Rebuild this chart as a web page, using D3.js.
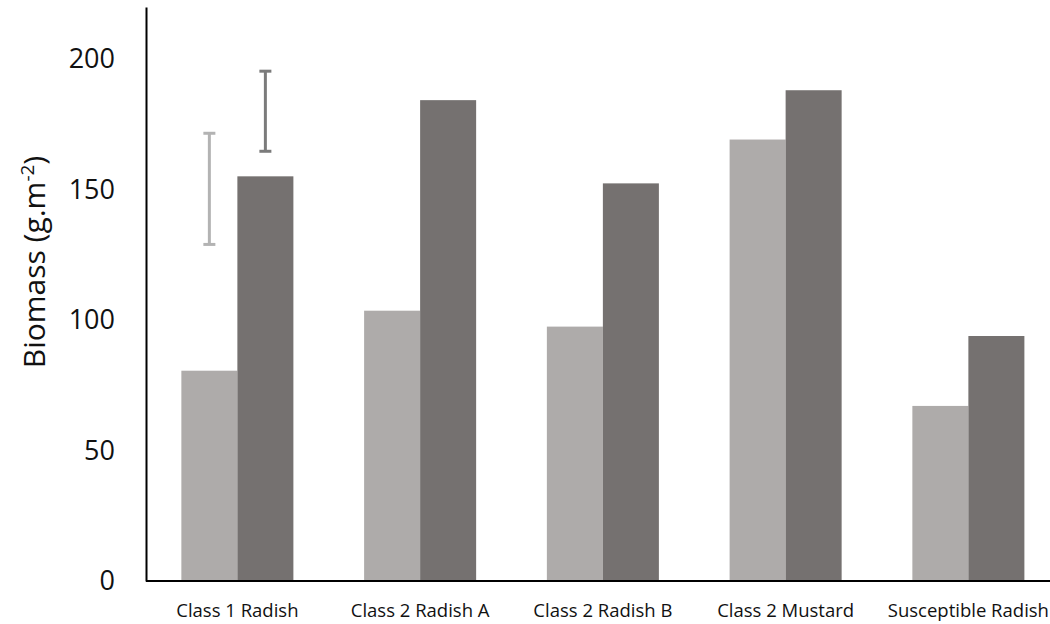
<!DOCTYPE html>
<html>
<head>
<meta charset="utf-8">
<script src="https://cdn.jsdelivr.net/npm/d3@7"></script>
<style>
  html, body { margin: 0; padding: 0; background: #fff; }
  svg { display: block; }
</style>
</head>
<body>
<div id="chart"></div>
<script>
// categories and series values (biomass, g.m-2)
const categories = ["Class 1 Radish", "Class 2 Radish A", "Class 2 Radish B", "Class 2 Mustard", "Susceptible Radish"];
const seriesNames = ["light", "dark"];
const lightValues = [80.6, 103.6, 97.5, 169.2, 67.1];
const darkValues = [155.1, 184.3, 152.4, 188.1, 93.9];
// error bars (only on first group) as [low, high]
const lightErr = [[129, 171.6], null, null, null, null];
const darkErr = [[164.7, 195.4], null, null, null, null];
const yTicks = [0, 50, 100, 150, 200];

const width = 1050, height = 624;
const margin = { top: 7, left: 146, bottom: 43 };
const colors = { light: "#aeabaa", dark: "#757170" };
const errColors = { light: "#b3b3b3", dark: "#7b7b7b" };

const svg = d3.select("#chart").append("svg")
  .attr("width", width)
  .attr("height", height)
  .attr("font-family", "'Open Sans', sans-serif");

const y = d3.scaleLinear().domain([0, 220]).range([height - margin.bottom, margin.top]);
const x = d3.scaleBand().domain(categories).range([margin.left, margin.left + 5 * 182.75]).paddingInner(0.387).paddingOuter(0.1935);
const xs = d3.scaleBand().domain(seriesNames).range([0, x.bandwidth()]);

const data = categories.map((c, i) => ({
  cat: c,
  vals: [
    { key: "light", v: lightValues[i], err: lightErr[i] },
    { key: "dark", v: darkValues[i], err: darkErr[i] }
  ]
}));

// bars
const g = svg.append("g")
  .selectAll("g")
  .data(data)
  .join("g")
  .attr("transform", (d) => `translate(${x(d.cat)},0)`);

g.selectAll("rect")
  .data((d) => d.vals)
  .join("rect")
  .attr("x", (d) => xs(d.key))
  .attr("width", xs.bandwidth())
  .attr("y", (d) => y(d.v))
  .attr("height", (d) => y(0) - y(d.v))
  .attr("fill", (d) => colors[d.key]);

// error bars
const eb = g.selectAll("g.err")
  .data((d) => d.vals.filter((v) => v.err))
  .join("g")
  .attr("class", "err")
  .attr("stroke", (d) => errColors[d.key])
  .attr("stroke-width", 3);

eb.append("line")
  .attr("x1", (d) => xs(d.key) + xs.bandwidth() / 2)
  .attr("x2", (d) => xs(d.key) + xs.bandwidth() / 2)
  .attr("y1", (d) => y(d.err[0]))
  .attr("y2", (d) => y(d.err[1]));
eb.selectAll("line.cap")
  .data((d) => [[d, d.err[0]], [d, d.err[1]]])
  .join("line")
  .attr("class", "cap")
  .attr("x1", (d) => xs(d[0].key) + xs.bandwidth() / 2 - 6)
  .attr("x2", (d) => xs(d[0].key) + xs.bandwidth() / 2 + 6)
  .attr("y1", (d) => y(d[1]))
  .attr("y2", (d) => y(d[1]));

// y axis
const yAxis = svg.append("g")
  .attr("transform", `translate(${margin.left},0)`)
  .call(d3.axisLeft(y).tickValues(yTicks).tickSize(0).tickPadding(31));
yAxis.select(".domain").attr("stroke", "#000").attr("stroke-width", 2);
yAxis.selectAll("text").attr("font-family", "'Open Sans', sans-serif").attr("font-size", 27).attr("fill", "#111");

// x axis
const xAxis = svg.append("g")
  .attr("transform", `translate(0,${y(0)})`)
  .call(d3.axisBottom(x).tickSize(0).tickPadding(23));
xAxis.select(".domain").attr("d", `M${margin.left},0H${width}`).attr("stroke", "#000").attr("stroke-width", 2);
xAxis.selectAll("text").attr("font-family", "'Open Sans', sans-serif").attr("font-size", 18.5).attr("fill", "#111");

// y title
svg.append("text")
  .attr("transform", "translate(45,262) rotate(-90)")
  .attr("text-anchor", "middle")
  .attr("font-size", 30)
  .attr("fill", "#111")
  .text("Biomass (g.m")
  .append("tspan")
  .attr("dy", -11)
  .attr("font-size", 19)
  .text("-2")
  .clone(true)
  .attr("dy", 11)
  .attr("font-size", 30)
  .text(")");
</script>
</body>
</html>
